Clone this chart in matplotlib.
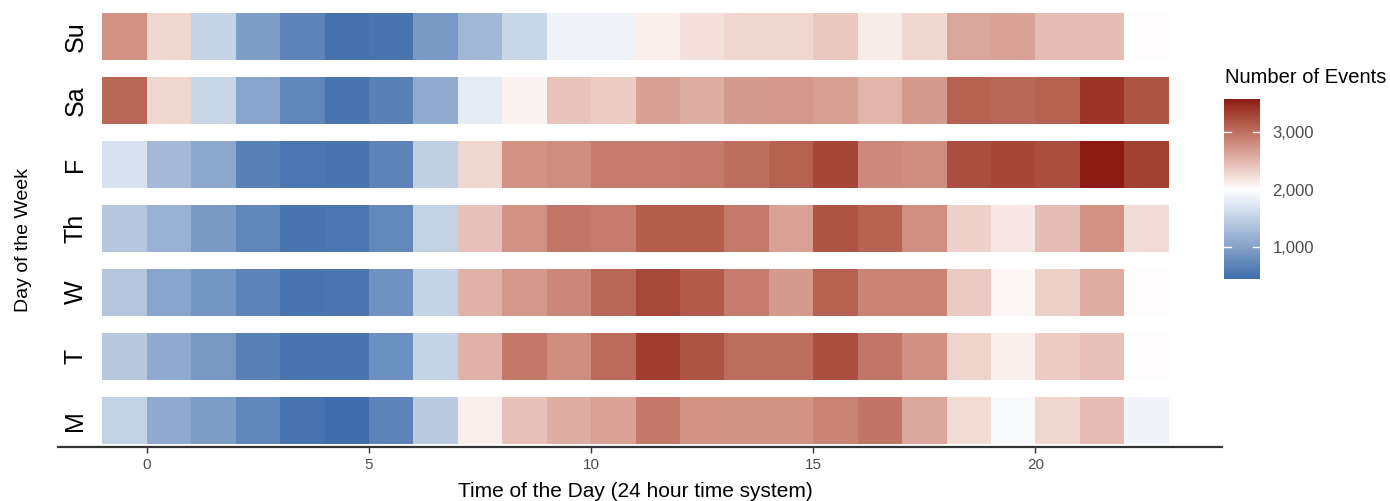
import numpy as np
import matplotlib
matplotlib.use('Agg')
import matplotlib.pyplot as plt
import matplotlib.colors as mcolors
from matplotlib.transforms import blended_transform_factory

plt.rcParams['font.family'] = ['Liberation Sans', 'DejaVu Sans']

# event counts per hour (0..23) for each day
hours = np.arange(24)
days = ['M', 'T', 'W', 'Th', 'F', 'Sa', 'Su']
mon = [1515, 1100, 945, 715, 500, 445, 685, 1440, 2120, 2425, 2565, 2650, 2945, 2760, 2740, 2740, 2850, 2960, 2605, 2250, 1945, 2275, 2445, 1885]
tue = [1420, 1100, 895, 650, 525, 530, 815, 1530, 2530, 2945, 2790, 3035, 3355, 3200, 3020, 3020, 3230, 2950, 2765, 2305, 2095, 2350, 2420, 2020]
wed = [1375, 1035, 875, 690, 525, 545, 840, 1530, 2540, 2720, 2825, 3060, 3285, 3145, 2915, 2695, 3100, 2855, 2850, 2365, 2055, 2330, 2575, 2020]
thu = [1400, 1175, 920, 715, 525, 555, 740, 1510, 2430, 2755, 2950, 2920, 3135, 3135, 2930, 2640, 3200, 3090, 2785, 2315, 2155, 2450, 2755, 2240]
fri = [1685, 1250, 1060, 650, 560, 530, 685, 1490, 2275, 2760, 2790, 2920, 2920, 2925, 3020, 3095, 3300, 2820, 2790, 3230, 3300, 3235, 3574, 3335]
sat = [3060, 2275, 1565, 1035, 715, 520, 650, 1105, 1790, 2080, 2410, 2355, 2660, 2565, 2695, 2715, 2670, 2515, 2695, 3100, 3060, 3095, 3415, 3200]
sun = [2760, 2275, 1530, 965, 690, 490, 530, 920, 1235, 1560, 1865, 1875, 2110, 2200, 2275, 2275, 2375, 2135, 2265, 2610, 2640, 2450, 2450, 2020]
counts = np.array([mon, tue, wed, thu, fri, sat, sun], dtype=float)

midpoint = 2000
cbar_ticks = [1000, 2000, 3000]

# red half interpolated in Lab space, blue half in plain RGB
M_RGB2XYZ = np.array([[0.4124, 0.3576, 0.1805],
                      [0.2126, 0.7152, 0.0722],
                      [0.0193, 0.1192, 0.9505]])
WHITE = np.array([0.95047, 1.0, 1.08883])


def to_lab(col):
    rgb = np.array(mcolors.to_rgb(col))
    lin = np.where(rgb <= 0.04045, rgb / 12.92, ((rgb + 0.055) / 1.055) ** 2.4)
    xyz = M_RGB2XYZ @ lin / WHITE
    f = np.where(xyz > 0.008856, np.cbrt(xyz), 7.787 * xyz + 16 / 116)
    return np.array([116 * f[1] - 16, 500 * (f[0] - f[1]), 200 * (f[1] - f[2])])


def from_lab(lab):
    fy = (lab[0] + 16) / 116
    f = np.array([fy + lab[1] / 500, fy, fy - lab[2] / 200])
    xyz = np.where(f ** 3 > 0.008856, f ** 3, (f - 16 / 116) / 7.787) * WHITE
    lin = np.linalg.solve(M_RGB2XYZ, xyz)
    lin = np.clip(lin, 0, 1)
    rgb = np.where(lin <= 0.0031308, 12.92 * lin, 1.055 * lin ** (1 / 2.4) - 0.055)
    return np.clip(rgb, 0, 1)


low_rgb = np.array(mcolors.to_rgb('#3D6CAA'))
mid_rgb = np.array(mcolors.to_rgb('#FFFFFF'))
mid, high = to_lab('#FFFFFF'), to_lab('#8B1A14')
cols = []
for t in np.linspace(0, 1, 256):
    if t < 0.5:
        cols.append(low_rgb + (mid_rgb - low_rgb) * (t / 0.5))
    else:
        cols.append(from_lab(mid + (high - mid) * ((t - 0.5) / 0.5)))
cmap = mcolors.ListedColormap(cols)

spread = np.abs(counts - midpoint).max()
norm = mcolors.Normalize(vmin=midpoint - spread, vmax=midpoint + spread)

fig = plt.figure(figsize=(13.9, 5.01), dpi=100)
ax = fig.add_axes([58 / 1390, 1 - 447 / 501, 1164 / 1390, 447 / 501])

tile_h = 0.74
x_edges = np.append(hours - 1, hours[-1])
for i, day in enumerate(days):
    mesh = ax.pcolormesh(x_edges, [i - tile_h / 2, i + tile_h / 2], counts[i][None, :],
                         cmap=cmap, norm=norm, shading='flat', edgecolors='none',
                         antialiased=False)

ax.set_xlim(-2.0, 24.2)
ax.set_ylim(-0.414, 6.57)

for s in ['top', 'right', 'left']:
    ax.spines[s].set_visible(False)
ax.spines['bottom'].set_color('#333333')
ax.spines['bottom'].set_linewidth(1.6)

ax.set_xticks([0, 5, 10, 15, 20])
ax.tick_params(axis='x', length=4, width=1, color='#333333', labelsize=11,
               labelcolor='#4d4d4d', pad=4)
ax.set_yticks(range(len(days)))
ax.set_yticklabels(days, rotation=90, fontsize=18, color='black', ha='center', va='center')
ax.tick_params(axis='y', length=0, pad=-12.6)

ax.set_xlabel('Time of the Day (24 hour time system)', fontsize=15, color='black')
ax.xaxis.set_label_coords(0.496, -0.078)
ax.set_ylabel('Day of the Week', fontsize=14, color='black')
ax.yaxis.set_label_coords(-0.022, 0.463)

# colour bar legend
cax = fig.add_axes([1224 / 1390, 1 - 279 / 501, 36 / 1390, 180 / 501])
cb = fig.colorbar(mesh, cax=cax)
cb.outline.set_visible(False)
cb.set_ticks(cbar_ticks)
cb.set_ticklabels([f'{v:,}' for v in cbar_ticks])
cax.tick_params(length=0, labelsize=12, labelcolor='#4d4d4d', pad=9)
cax.set_ylim(counts.min(), counts.max())
tr = blended_transform_factory(cax.transAxes, cax.transData)
for v in cbar_ticks:
    cax.plot([0, 0.2], [v, v], color='white', lw=1, transform=tr)
    cax.plot([0.8, 1], [v, v], color='white', lw=1, transform=tr)

fig.text(1225 / 1390, 1 - 77 / 501, 'Number of Events', fontsize=14.5,
         color='black', ha='left', va='center')

fig.savefig('out.png', dpi=100)
